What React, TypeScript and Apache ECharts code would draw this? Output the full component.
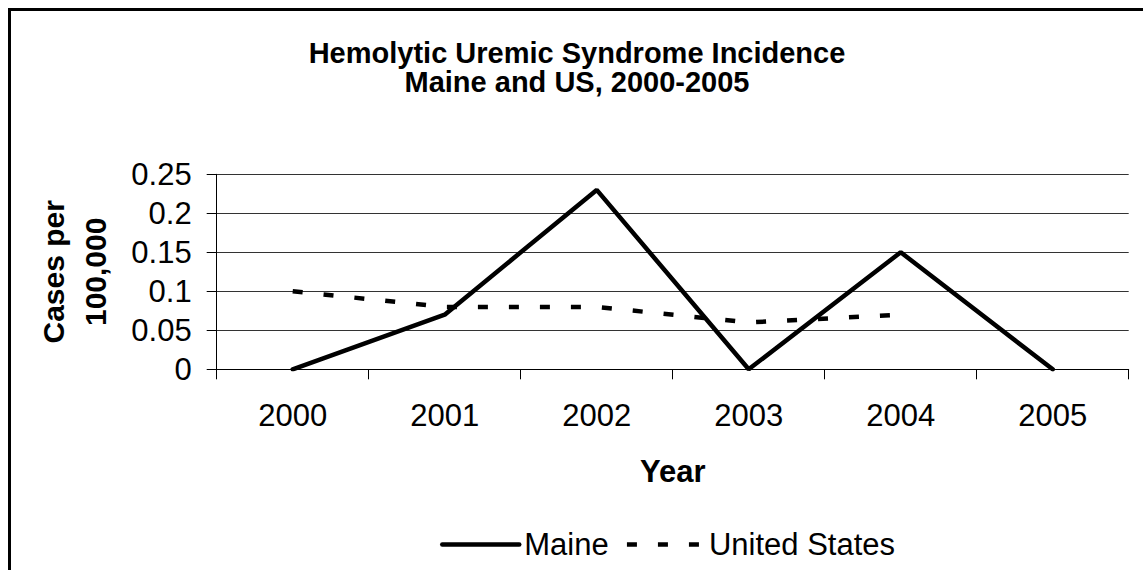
import React, { useEffect, useRef } from 'react';
import * as echarts from 'echarts';

const years = ['2000', '2001', '2002', '2003', '2004', '2005'];
const maineValues = [0, 0.07, 0.23, 0, 0.15, 0];
const usValues: (number | null)[] = [0.1, 0.08, 0.08, 0.06, 0.07, null];
const seriesNames = ['Maine', 'United States'];
const yMin = 0;
const yMax = 0.25;
const yStep = 0.05;
const titleText = 'Hemolytic Uremic Syndrome Incidence\nMaine and US, 2000-2005';
const xName = 'Year';
const yName = 'Cases per\n100,000';

const FONT = '"Liberation Sans", Arial, Helvetica, sans-serif';

export default function App() {
  const ref = useRef<HTMLDivElement>(null);
  useEffect(() => {
    if (!ref.current) return;
    const chart = echarts.init(ref.current, undefined, { renderer: 'svg' });
    chart.setOption({
      animation: false,
      backgroundColor: '#ffffff',
      textStyle: { fontFamily: FONT },
      title: {
        text: titleText,
        left: 577,
        top: 38,
        padding: 0,
        textAlign: 'center',
        textStyle: {
          fontFamily: FONT,
          fontSize: 29,
          fontWeight: 'bold',
          color: '#000',
          lineHeight: 29.5,
        },
      },
      graphic: [
        {
          type: 'rect',
          silent: true,
          shape: { x: 9.5, y: 9.5, width: 1300, height: 700 },
          style: { fill: 'none', stroke: '#000', lineWidth: 3 },
        },
      ],
      legend: {
        left: 440,
        top: 529,
        padding: 0,
        itemWidth: 77,
        itemHeight: 14,
        itemGap: 16,
        selectedMode: false,
        data: seriesNames,
        itemStyle: { opacity: 0 },
        lineStyle: { width: 4.5 },
        textStyle: { fontFamily: FONT, fontSize: 31, color: '#000' },
      },
      grid: {
        left: 216.7,
        right: 14.3,
        top: 174.3,
        bottom: 200.7,
        containLabel: false,
        outerBoundsMode: 'none',
      },
      xAxis: {
        type: 'category',
        data: years,
        boundaryGap: true,
        axisLine: { show: true, lineStyle: { color: '#000', width: 1 } },
        axisTick: { show: true, length: 10, interval: 0, lineStyle: { color: '#000', width: 1 } },
        axisLabel: { interval: 0, fontFamily: FONT, fontSize: 31, color: '#000', margin: 31 },
        name: xName,
        nameLocation: 'middle',
        nameGap: 87,
        nameTextStyle: { fontFamily: FONT, fontSize: 31, fontWeight: 'bold', color: '#000' },
        splitLine: { show: false },
      },
      yAxis: {
        type: 'value',
        min: yMin,
        max: yMax,
        interval: yStep,
        axisLine: { show: true, lineStyle: { color: '#000', width: 1 } },
        axisTick: { show: true, length: 10, lineStyle: { color: '#000', width: 1 } },
        axisLabel: { fontFamily: FONT, fontSize: 31, color: '#000', margin: 25 },
        splitLine: { show: true, lineStyle: { color: '#333', width: 1 } },
        name: yName,
        nameLocation: 'middle',
        nameGap: 100,
        nameRotate: 90,
        nameTextStyle: {
          fontFamily: FONT,
          fontSize: 30,
          fontWeight: 'bold',
          color: '#000',
          lineHeight: 42,
        },
      },
      series: [
        {
          name: seriesNames[0],
          type: 'line',
          data: maineValues,
          symbol: 'none',
          itemStyle: { color: '#000' },
          lineStyle: { color: '#000', width: 4.5, cap: 'round' },
        },
        {
          name: seriesNames[1],
          type: 'line',
          data: usValues,
          symbol: 'none',
          connectNulls: false,
          itemStyle: { color: '#000' },
          lineStyle: { color: '#000', width: 4.5, type: [10, 21], cap: 'butt' },
        },
      ],
    });
    return () => chart.dispose();
  }, []);
  return (
    <div
      ref={ref}
      style={{ position: 'fixed', left: 0, top: 0, width: 1143, height: 570 }}
    />
  );
}
